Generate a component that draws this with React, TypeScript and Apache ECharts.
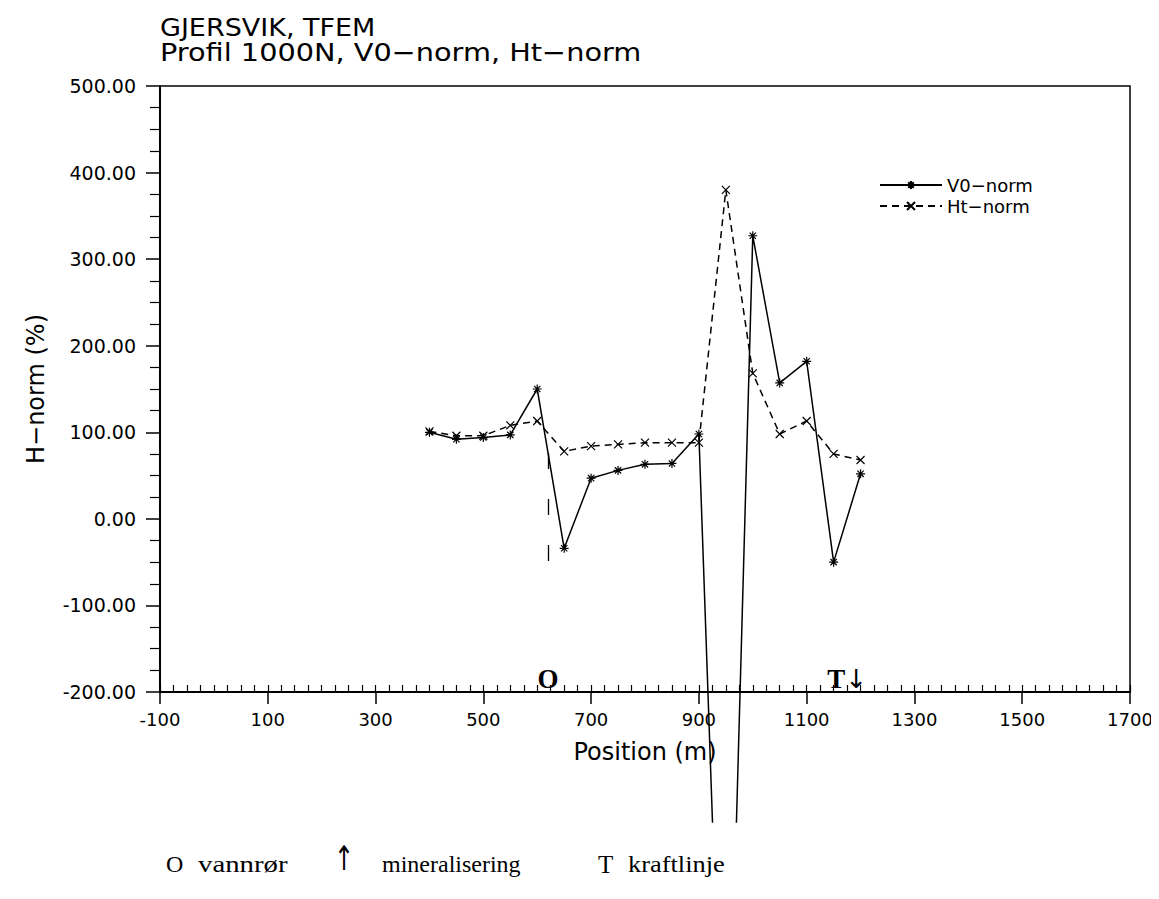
import React, { useEffect, useRef } from "react";
import * as echarts from "echarts";

// ---- data ----
const positions = [400, 450, 500, 550, 600, 650, 700, 750, 800, 850, 900, 950, 1000, 1050, 1100, 1150, 1200];
const v0Norm = [100, 92, 94, 97, 150, -34, 47, 56, 63, 64, 98, -790, 327, 157, 182, -50, 52];
const htNorm = [101, 96, 96, 108, 113, 78, 84, 86, 88, 88, 88, 380, 168, 98, 113, 75, 68];
const xTickLabels = [-100, 100, 300, 500, 700, 900, 1100, 1300, 1500, 1700];
const yTickLabels = [-200, -100, 0, 100, 200, 300, 400, 500];
const annotations = [
  { name: "O", x: 620, y: -185 },
  { name: "T↓", x: 1175, y: -185 },
];
const mineralMark = { x: 620, from: 76, to: -65 };

// ---- layout ----
const GRID_LEFT = 160;
const GRID_TOP = 86;
const GRID_W = 970;
const GRID_H = 606;
const CLIP_BOTTOM = 822;

const STAR = "path://M5,0L5,10M0,5L10,5M1.5,1.5L8.5,8.5M1.5,8.5L8.5,1.5";
const CROSS = "path://M0,0L10,10M0,10L10,0";
const SANS = "DejaVu Sans";
const SERIF = "Liberation Serif";

export default function App() {
  const ref = useRef<HTMLDivElement>(null);
  useEffect(() => {
    if (!ref.current) return;
    const chart = echarts.init(ref.current, null, { renderer: "svg" });
    const yMax = yTickLabels[yTickLabels.length - 1];
    const yMin = yTickLabels[0];
    const pxPerUnit = GRID_H / (yMax - yMin);
    const yMinExt = yMax - (CLIP_BOTTOM - GRID_TOP) / pxPerUnit;
    const xMin = xTickLabels[0];
    const xMax = xTickLabels[xTickLabels.length - 1];
    const black = "#000";
    const serifText = (x: number, y: number, text: string, size = 24, scaleX = 1) => ({
      type: "text", x, y, scaleX,
      style: { text, font: `${size}px "${SERIF}"`, fill: black, verticalAlign: "middle", align: "left" },
    });
    chart.setOption({
      animation: false,
      backgroundColor: "#fff",
      grid: [
        { left: GRID_LEFT, top: GRID_TOP, width: GRID_W, height: GRID_H, show: true, borderColor: black, borderWidth: 1.5, backgroundColor: "transparent" },
        { left: GRID_LEFT, top: GRID_TOP, width: GRID_W, height: CLIP_BOTTOM - GRID_TOP },
      ],
      xAxis: [
        {
          gridIndex: 0, type: "value", min: xMin, max: xMax, position: "bottom",
          axisLine: { show: true, onZero: false, lineStyle: { color: black, width: 2 } },
          axisTick: { show: true, customValues: xTickLabels, length: 12, inside: false, lineStyle: { color: black, width: 1.5 } },
          axisLabel: { customValues: xTickLabels, formatter: (v: number) => String(v), fontSize: 18, fontFamily: SANS, color: black, margin: 18 },
          splitLine: { show: false },
          name: "Position (m)", nameLocation: "middle", nameGap: 48,
          nameTextStyle: { fontSize: 24, fontFamily: SANS, color: black },
        },
        {
          gridIndex: 0, type: "value", min: xMin, max: xMax, interval: 25, position: "bottom",
          axisLine: { show: false, onZero: false },
          axisTick: { show: true, inside: true, length: 7, lineStyle: { color: black, width: 1.2 } },
          axisLabel: { show: false },
          splitLine: { show: false },
        },
        { gridIndex: 1, type: "value", min: xMin, max: xMax, show: false },
      ],
      yAxis: [
        {
          gridIndex: 0, type: "value", min: yMin, max: yMax, interval: 100,
          axisLine: { show: true, onZero: false, lineStyle: { color: black, width: 2 } },
          axisTick: { show: true, length: 14, lineStyle: { color: black, width: 1.5 } },
          minorTick: { show: true, splitNumber: 4, length: 10, lineStyle: { color: black, width: 1.2 } },
          axisLabel: { formatter: (v: number) => v.toFixed(2), fontSize: 19, fontFamily: SANS, color: black, margin: 24 },
          splitLine: { show: false },
          minorSplitLine: { show: false },
          name: "H−norm (%)", nameLocation: "middle", nameGap: 112,
          nameTextStyle: { fontSize: 24, fontFamily: SANS, color: black },
        },
        { gridIndex: 1, type: "value", min: yMinExt, max: yMax, show: false },
      ],
      legend: {
        orient: "vertical", left: 874, top: 171, itemWidth: 62, itemHeight: 10, itemGap: 3,
        textStyle: { fontSize: 18, fontFamily: SANS, color: black },
        data: ["V0−norm", "Ht−norm"],
      },
      series: [
        {
          name: "V0−norm", type: "line", xAxisIndex: 2, yAxisIndex: 1, clip: true,
          data: positions.map((p, i) => [p, v0Norm[i]]),
          symbol: STAR, symbolSize: 9,
          lineStyle: { color: black, width: 1.5 },
          itemStyle: { color: black, borderColor: black, borderWidth: 1.2 },
          markLine: {
            silent: true, symbol: ["none", "none"], label: { show: false },
            lineStyle: { color: black, width: 1.3, type: [16, 30] },
            data: [[{ coord: [mineralMark.x, mineralMark.from] }, { coord: [mineralMark.x, mineralMark.to] }]],
          },
        },
        {
          name: "Ht−norm", type: "line", xAxisIndex: 2, yAxisIndex: 1, clip: true,
          data: positions.map((p, i) => [p, htNorm[i]]),
          symbol: CROSS, symbolSize: 8,
          lineStyle: { color: black, width: 1.5, type: [7, 5] },
          itemStyle: { color: black, borderColor: black, borderWidth: 1.2 },
          markPoint: {
            symbol: "circle", symbolSize: 1, itemStyle: { color: "rgba(0,0,0,0)" },
            label: {
              show: true, position: "inside",
              formatter: (p: any) => (p.name === "T↓" ? "{t|T}{a|↓}" : "{t|O}"),
              rich: {
                t: { fontSize: 27, fontWeight: "bold", fontFamily: SERIF, color: black },
                a: { fontSize: 26, fontFamily: SANS, color: black },
              },
            },
            data: annotations.map((a) => ({ name: a.name, coord: [a.x, a.y] })),
          },
        },
      ],
      graphic: [
        { type: "text", x: 160, y: 27, scaleX: 1.08, style: { text: "GJERSVIK, TFEM", font: `25px "${SANS}"`, fill: black, verticalAlign: "middle", align: "left" } },
        { type: "text", x: 160, y: 52, scaleX: 1.15, style: { text: "Profil 1000N, V0−norm, Ht−norm", font: `25px "${SANS}"`, fill: black, verticalAlign: "middle", align: "left" } },
        serifText(166, 864, "O", 24),
        serifText(198, 864, "vannrør", 24, 1.2),
        { type: "text", x: 334, y: 858, scaleX: 0.7, style: { text: "↑", font: `34px "${SANS}"`, fill: black, verticalAlign: "middle", align: "left" } },
        serifText(382, 864, "mineralisering", 24),
        serifText(598, 864, "T", 25),
        serifText(628, 864, "kraftlinje", 24, 1.1),
      ],
    });
    return () => chart.dispose();
  }, []);
  return <div ref={ref} style={{ width: 1159, height: 899, margin: -8 }} />;
}
